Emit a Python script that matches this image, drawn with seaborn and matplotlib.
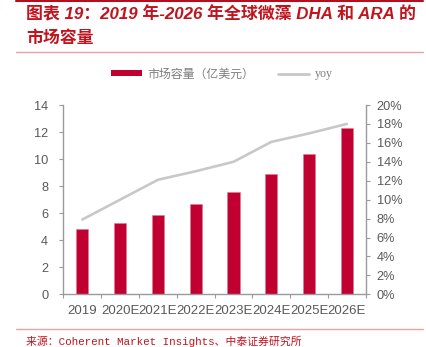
import numpy as np
import pandas as pd
import matplotlib
matplotlib.use("Agg")
import matplotlib.pyplot as plt
import seaborn as sns
from matplotlib.ticker import FuncFormatter, FixedLocator
from matplotlib.lines import Line2D
from matplotlib.patches import Patch

# ---- data ----
years = ["2019", "2020E", "2021E", "2022E", "2023E", "2024E", "2025E", "2026E"]
market_size = [4.8, 5.3, 5.9, 6.7, 7.6, 8.9, 10.4, 12.3]   # 亿美元
yoy = [0.079, 0.100, 0.121, 0.130, 0.140, 0.161, 0.170, 0.180]
bar_label = "市场容量（亿美元）"
line_label = "yoy"
title_line1 = "图表 19：2019 年-2026 年全球微藻 DHA 和 ARA 的"
title_line2 = "市场容量"
source = "来源：Coherent Market Insights、中泰证券研究所"

sns.set_theme(style="white")
plt.rcParams['font.family'] = ['Liberation Sans', 'Noto Sans CJK SC', 'DejaVu Sans']

BAR_C = "#C00031"
LINE_C = "#C8C8C8"
AX_C = "#9A9A9A"
TXT_C = "#595959"
RED = "#C0141E"
PINK = "#E9A3A3"

df = pd.DataFrame({"year": years, "size": market_size, "yoy": yoy})

fig = plt.figure(figsize=(4.27, 3.47), dpi=100)
ax = fig.add_axes([63.5/427, 1-294.3/347, (365.7-63.5)/427, (294.3-105)/347])

sns.barplot(data=df, x="year", y="size", color=BAR_C, width=0.32,
            saturation=1, ax=ax, edgecolor="#E07A90", linewidth=0.4)
ax2 = ax.twinx()
sns.lineplot(data=df, x="year", y="yoy", color=LINE_C, linewidth=1.9, ax=ax2,
             sort=False)

n = len(years)
ax.set_xlim(-0.5, n - 0.5)
ax.set_ylim(0, 14)
ax.set_yticks(np.arange(0, 15, 2))
ax2.set_ylim(0, 0.20)
ax2.set_yticks(np.arange(0, 0.201, 0.02))
ax2.yaxis.set_major_formatter(FuncFormatter(lambda v, p: f"{v*100:.0f}%"))
ax.set_xlabel("")
ax.set_ylabel("")
ax2.set_ylabel("")
ax2.set_xlabel("")

for a in (ax, ax2):
    for s in a.spines.values():
        s.set_visible(False)
    a.grid(False)
ax.spines["left"].set_visible(True)
ax.spines["bottom"].set_visible(True)
ax2.spines["right"].set_visible(True)
for s in (ax.spines["left"], ax.spines["bottom"], ax2.spines["right"]):
    s.set_color(AX_C)
    s.set_linewidth(1.0)

ax.tick_params(axis="y", which="major", direction="out", length=3, width=0.8,
               color=AX_C, labelsize=9.2, labelcolor=TXT_C, pad=8, left=True)
ax2.tick_params(axis="y", which="major", direction="out", length=3, width=0.8,
                color=AX_C, labelsize=9.2, labelcolor=TXT_C, pad=5, right=True)
ax.tick_params(axis="x", which="major", length=0, labelsize=9.5,
               labelcolor=TXT_C, pad=8)
ax.xaxis.set_minor_locator(FixedLocator(np.arange(-0.5, n, 1.0)))
ax.tick_params(axis="x", which="minor", direction="out", length=3, width=0.8,
               color=AX_C, bottom=True)

# legend
handles = [Patch(facecolor=BAR_C, edgecolor="none"),
           Line2D([0], [0], color=LINE_C, linewidth=2.0)]
leg = fig.legend(handles, [bar_label, line_label], loc="center",
                 bbox_to_anchor=(222/427, 1-74.5/347), ncol=2, frameon=False,
                 handlelength=2.6, handleheight=0.45, handletextpad=0.45,
                 columnspacing=2.0,
                 prop={"family": ["Liberation Serif", "Noto Sans CJK SC"], "size": 8.6})
for t in leg.get_texts():
    t.set_color("#7F7F7F")

# title
tfam = ["Liberation Sans", "Noto Sans CJK SC"]
fig.text(26/427, 1-14.5/347, title_line1, color=RED, fontsize=12.2,
         fontweight="bold", fontstyle="italic", family=tfam, va="center", ha="left")
fig.text(26/427, 1-38.5/347, title_line2, color=RED, fontsize=12.2,
         fontweight="bold", fontstyle="italic", family=tfam, va="center", ha="left")

# decorative lines
fig.add_artist(Line2D([16/427, 423/427], [1-1/347, 1-1/347], color="#B01020",
                      linewidth=1.5, transform=fig.transFigure))
fig.add_artist(Line2D([16/427, 423/427], [1-51.7/347, 1-51.7/347], color=PINK,
                      linewidth=1.0, transform=fig.transFigure))
fig.add_artist(Line2D([16/427, 423/427], [1-329.3/347, 1-329.3/347], color=PINK,
                      linewidth=1.0, transform=fig.transFigure))

fig.text(26/427, 1-341.7/347, source, color=RED, fontsize=7.8,
         family=["Liberation Mono", "Noto Sans CJK SC"], va="center", ha="left")

fig.savefig("out.png", dpi=100)
